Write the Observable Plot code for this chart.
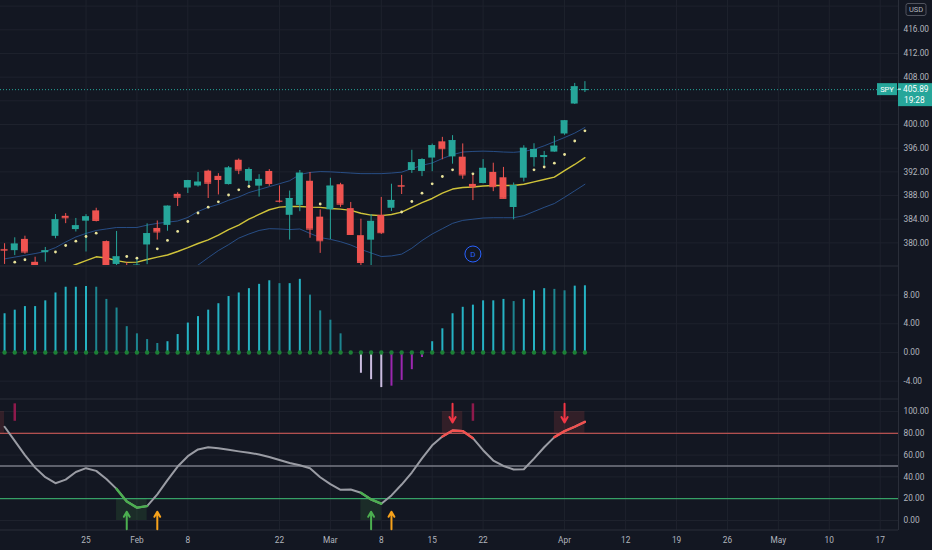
<!DOCTYPE html>
<html><head><meta charset="utf-8">
<script src="https://cdn.jsdelivr.net/npm/d3@7"></script>
<script src="https://cdn.jsdelivr.net/npm/@observablehq/plot@0.6"></script>
<style>
html,body{margin:0;padding:0;background:#131722;}
#chart{width:932px;height:550px;overflow:hidden;background:#131722;}
#chart svg{display:block;}
</style></head><body><div id="chart"></div>
<script>
// ---------- DATA (SPY daily) ----------
const dates = ["2021-01-12","2021-01-13","2021-01-14","2021-01-15","2021-01-19","2021-01-20","2021-01-21","2021-01-22","2021-01-25","2021-01-26","2021-01-27","2021-01-28","2021-01-29","2021-02-01","2021-02-02","2021-02-03","2021-02-04","2021-02-05","2021-02-08","2021-02-09","2021-02-10","2021-02-11","2021-02-12","2021-02-16","2021-02-17","2021-02-18","2021-02-19","2021-02-22","2021-02-23","2021-02-24","2021-02-25","2021-02-26","2021-03-01","2021-03-02","2021-03-03","2021-03-04","2021-03-05","2021-03-08","2021-03-09","2021-03-10","2021-03-11","2021-03-12","2021-03-15","2021-03-16","2021-03-17","2021-03-18","2021-03-19","2021-03-22","2021-03-23","2021-03-24","2021-03-25","2021-03-26","2021-03-29","2021-03-30","2021-03-31","2021-04-01","2021-04-05","2021-04-06"];
const open = [378.89,378.69,380.59,376.72,378.34,381.11,384.49,382.25,383.67,385.41,380.22,376.36,375.63,373.72,379.65,382.44,382.96,388.20,389.27,389.61,392.12,391.24,389.85,393.96,390.42,389.59,392.07,387.06,384.66,386.33,390.41,384.35,385.59,389.82,385.79,381.22,380.46,384.66,385.85,389.69,392.23,392.07,394.33,397.07,394.53,394.48,389.88,390.03,391.91,391.00,385.98,390.93,394.40,394.42,395.34,398.40,403.46,405.76];
const high = [379.86,380.86,381.13,377.58,379.23,384.79,384.95,384.13,384.77,385.85,380.32,381.93,376.67,377.34,383.22,383.70,386.24,388.47,390.56,391.89,392.28,391.69,392.90,394.17,392.66,391.52,392.38,389.62,388.76,392.23,391.88,385.58,390.92,390.07,386.83,384.00,384.76,387.68,389.91,391.40,395.65,394.21,396.69,397.83,398.12,396.72,391.57,394.07,393.46,392.75,390.11,396.41,396.75,395.45,398.00,400.67,406.94,407.24];
const low = [376.36,377.85,378.10,373.70,376.75,380.69,383.25,381.84,378.46,383.54,372.01,375.89,368.27,370.38,376.32,380.48,381.97,386.14,388.35,389.42,387.50,388.10,389.77,391.53,389.33,387.74,389.55,386.74,380.48,385.27,380.78,378.23,380.57,386.00,381.31,371.88,372.64,381.42,385.31,388.17,391.74,391.20,392.03,394.04,393.30,390.75,387.15,389.97,388.66,387.47,383.90,390.29,392.81,393.02,395.31,398.18,403.38,405.40];
const close = [378.77,379.79,378.46,375.70,378.65,383.89,384.24,382.88,384.39,383.79,374.41,377.63,370.07,376.23,381.55,381.85,386.19,387.71,390.51,390.25,390.08,390.71,392.64,392.30,392.39,390.72,390.03,387.03,387.50,391.77,382.33,380.36,389.58,386.54,381.42,376.70,383.63,381.72,387.17,389.58,393.53,394.06,396.41,395.91,397.26,391.48,389.48,392.59,389.50,387.52,389.70,395.98,395.78,394.73,396.33,400.61,406.36,405.89];

// channel lines
const bandMid = [371.6,372.3,373.0,373.6,374.3,375.0,375.7,376.35,377.0,377.65,377.45,377.0,376.7,376.75,377.2,377.6,377.95,378.55,379.2,379.9,380.5,381.3,382.25,383.0,384.0,384.8,385.6,386.05,386.15,386.15,386.05,386.0,385.8,385.7,385.5,385.0,384.7,384.6,384.8,385.2,386.0,386.8,387.5,388.4,389.1,389.35,389.45,389.6,389.7,389.7,389.7,389.9,390.3,390.7,391.1,392.2,393.25,394.4];
const bandUpper = [377.3,377.6,377.9,378.2,378.55,379.2,380.15,381.0,381.6,382.1,382.35,382.6,382.6,382.6,383.0,383.3,383.5,383.7,384.3,385.3,386.0,386.5,387.2,387.75,388.5,389.0,389.5,390.0,390.5,391.55,391.9,392.05,392.0,391.9,391.8,391.7,391.7,391.7,391.8,391.95,392.55,393.1,393.5,394.25,394.9,395.35,395.45,395.5,395.45,395.35,395.3,395.45,395.8,396.4,397.1,397.8,398.55,399.5];
const bandLower = [367.0,367.7,368.4,369.0,369.7,370.4,371.1,371.75,372.4,373.05,372.85,372.4,372.1,372.15,372.6,373.0,373.7,374.4,375.1,376.25,377.5,378.7,379.7,380.8,381.5,382.1,382.4,382.35,382.25,382.35,381.6,380.9,380.6,380.2,379.65,378.9,378.3,377.7,377.8,378.1,379.1,380.4,381.5,382.4,383.3,383.8,384.0,384.2,384.25,384.25,384.25,384.6,385.3,386.0,386.65,387.7,388.8,389.9];

// small dots
const dotDates = ["2021-01-13","2021-01-14","2021-01-20","2021-01-21","2021-01-22","2021-01-25","2021-01-26","2021-01-29","2021-02-01","2021-02-03","2021-02-04","2021-02-05","2021-02-08","2021-02-09","2021-02-10","2021-02-11","2021-02-12","2021-02-16","2021-02-17","2021-02-26","2021-03-10","2021-03-11","2021-03-12","2021-03-15","2021-03-16","2021-03-17","2021-03-19","2021-03-29","2021-03-30","2021-03-31","2021-04-01","2021-04-05","2021-04-06"];
const dotValues = [376.74,377.15,378.46,379.56,380.29,381.08,381.64,377.70,377.42,379.0,380.41,381.93,383.61,385.05,386.03,386.94,388.09,388.97,389.53,386.57,385.22,386.99,388.40,389.98,391.22,392.35,391.67,392.35,392.82,393.46,394.93,397.21,398.94];

const dividendDates = ["2021-03-19"];
const symbol = "SPY", interval = "1D", currency = "USD", countdown = "19:28";

// histogram pane
const hist = [5.4,5.9,6.4,6.4,7.2,8.3,9.1,9.1,9.2,9.1,7.4,6.2,3.6,2.6,1.8,1.25,1.5,2.5,4.1,5.0,5.9,6.8,7.8,8.3,8.9,9.5,10.0,9.6,9.6,10.2,8.0,5.8,4.5,2.6,0,-2.9,-3.8,-4.9,-4.7,-3.9,-2.4,-0.7,1.5,3.3,5.4,6.3,6.6,7.2,7.2,7.4,7.1,7.4,8.6,8.9,8.8,8.6,9.25,9.3];

// oscillator pane
const osc = [86,73,60,48.5,39.7,34.2,37.5,44.5,48,45.5,38,29,17.5,11.8,13.2,24,37,49.5,59,65.2,67.2,66.2,64.8,63.4,62.2,60.6,58.2,55.5,52.8,50.6,48,39.7,33.3,28.2,28.4,25.4,19.3,15.4,23,33,44,57,69,77,82.5,82,75.5,64.5,55,50,46.8,47,56.8,67.2,76.5,82,86,90.5];
const oscGreenRuns = [["2021-01-28","2021-02-02"],["2021-03-04","2021-03-08"]];
const oscRedRuns = [["2021-03-16","2021-03-19"],["2021-03-31","2021-04-06"]];
const greenZones = [["2021-01-28","2021-02-02"],["2021-03-04","2021-03-08"]];
const redZones = [["2021-01-11","2021-01-12"],["2021-03-16","2021-03-18"],["2021-03-31","2021-04-06"]];
const greenUpDates = ["2021-01-29","2021-03-05"];
const orangeUpDates = ["2021-02-03","2021-03-09"];
const redDownDates = ["2021-03-17","2021-04-01"];
const maroonDates = ["2021-01-13","2021-03-19"];

// axes
const priceGrid = [380,384,388,392,396,400,404,408,412,416,420];
const priceTicks = [380,384,388,392,396,400,408,412,416];
const histTicks = [-4,0,4,8];
const oscTicks = [0,20,40,60,80,100];
const oscLevels = [80,50,20];
const tickDates = ["2021-01-25","2021-02-01","2021-02-08","2021-02-22","2021-03-01","2021-03-08","2021-03-15","2021-03-22","2021-04-01","2021-04-12","2021-04-19","2021-04-26","2021-05-03","2021-05-10","2021-05-17"];
const tickLabels = ["25","Feb","8","22","Mar","8","15","22","Apr","12","19","26","May","10","17"];

// ---------- BUILD ----------
const BG="#131722", GRID="#1e222d", SEP="#2a2e39", TXT="#b2b5be";
const UP="#26a69a", DN="#ef5350";
const W=932, MR=34;
const FONT="Roboto, 'Noto Sans', sans-serif";
const FS=8.3;

const future = d3.utcDay.range(d3.utcDay.offset(new Date(dates[dates.length-1]),1), new Date("2021-05-25"))
  .filter(d => d.getUTCDay()%6 !== 0).map(d => d.toISOString().slice(0,10));
const sessions = dates.concat(future);
const idx = d => sessions.indexOf(d);
const tickIdx = tickDates.map(idx);
const xDomain = [-0.4, 87.8];

const bars = dates.map((d,i)=>({i,o:open[i],h:high[i],l:low[i],c:close[i],col: close[i]>=open[i]?UP:DN}));
const band = (arr)=>arr.map((v,i)=>({i,v}));
const dots = dotDates.map((d,k)=>({i:idx(d), v:dotValues[k]}));
const lastClose = close[close.length-1];
const style = {background:BG, color:TXT, fontFamily:FONT, fontSize:FS+"px", overflow:"hidden"};
const yAxis = (ticks)=>Plot.axisY(ticks,{anchor:"right",label:null,tickSize:0,tickPadding:5,tickFormat:d=>d.toFixed(2),color:TXT,fontSize:FS});

const price = Plot.plot({
  width:W, height:265, marginLeft:0, marginRight:MR, marginTop:0, marginBottom:0,
  style, color:{type:"identity"},
  x:{domain:xDomain, axis:null},
  y:{domain:[376.18,420.95], axis:null},
  marks:[
    Plot.ruleY(priceGrid,{stroke:GRID}),
    Plot.ruleX(tickIdx,{stroke:GRID}),
    Plot.text([`${symbol}, ${interval}`],{frameAnchor:"middle",dy:-37,fontSize:46,fontWeight:600,fill:"#ffffff",fillOpacity:0.022}),
    Plot.line(band(bandUpper),{x:"i",y:"v",stroke:"#2b5797",strokeWidth:1,strokeOpacity:0.85,clip:true}),
    Plot.line(band(bandLower),{x:"i",y:"v",stroke:"#2b5797",strokeWidth:1,strokeOpacity:0.85,clip:true}),
    Plot.line(band(bandMid),{x:"i",y:"v",stroke:"#cfc33a",strokeWidth:1.4,clip:true}),
    Plot.ruleX(bars,{x:"i",y1:"l",y2:"h",stroke:"col",strokeWidth:1,clip:true}),
    Plot.rect(bars,{x1:d=>d.i-0.34,x2:d=>d.i+0.34,y1:"o",y2:"c",fill:"col",clip:true}),
    Plot.ruleY(bars,{x1:d=>d.i-0.34,x2:d=>d.i+0.34,y:"c",stroke:"col",strokeWidth:1,clip:true}),
    Plot.dot(dots,{x:"i",y:"v",r:1.4,fill:"#e9e39a",clip:true}),
    Plot.ruleY([lastClose],{stroke:UP,strokeDasharray:"1 2",strokeWidth:1}),
    Plot.dot(dividendDates.map(idx),{x:d=>d,frameAnchor:"bottom",dy:-11.5,r:8,stroke:"#2962ff",fill:"none",strokeWidth:1}),
    Plot.text(dividendDates.map(idx),{x:d=>d,frameAnchor:"bottom",dy:-11.5,lineAnchor:"middle",text:()=>"D",fill:"#2962ff",fontSize:8}),
    Plot.ruleX([xDomain[1]],{stroke:SEP}),
    yAxis(priceTicks)
  ]
});

const histData = hist.map((v,i)=>{
  const p = i ? hist[i-1] : v;
  const col = v>=0 ? (v>=p ? "#25b3c4" : "#1d8590") : (v<p ? "#cbbde0" : "#9c27b0");
  return {i,v,col};
});
const histPlot = Plot.plot({
  width:W, height:133, marginLeft:0, marginRight:MR, marginTop:0, marginBottom:0,
  style, color:{type:"identity"},
  x:{domain:xDomain, axis:null},
  y:{domain:[-6.42,12.13], axis:null},
  marks:[
    Plot.ruleY(histTicks,{stroke:GRID}),
    Plot.ruleX(tickIdx,{stroke:GRID}),
    Plot.ruleY([12.13],{stroke:SEP,dy:0.5}),
    Plot.ruleX(histData,{x:"i",y1:0,y2:"v",stroke:"col",strokeWidth:2}),
    Plot.dot(histData,{x:"i",y:0,r:2.2,fill:"#1c7f36"}),
    Plot.ruleX([xDomain[1]],{stroke:SEP}),
    yAxis(histTicks)
  ]
});

const oscPts = osc.map((v,i)=>({i,v}));
const runs = [...oscGreenRuns.map(r=>({r,c:"#4caf50"})), ...oscRedRuns.map(r=>({r,c:"#f2514f"}))];
const segPts = runs.flatMap((run,k)=> d3.range(idx(run.r[0]), idx(run.r[1])+1).map(i=>({i,v:osc[i],k,c:run.c})));
const zoneIdx = d => d < dates[0] ? -1 : idx(d);
const zones = [...greenZones.map(z=>({a:zoneIdx(z[0]),b:zoneIdx(z[1]),y1:0,y2:20,c:"#4caf50"})),
               ...redZones.map(z=>({a:zoneIdx(z[0]),b:zoneIdx(z[1]),y1:80,y2:100,c:"#ef5350"}))];
const oscPlot = Plot.plot({
  width:W, height:152, marginLeft:0, marginRight:MR, marginTop:0, marginBottom:20,
  style, color:{type:"identity"},
  x:{domain:xDomain, axis:null},
  y:{domain:[-9.17,111.9], axis:null},
  marks:[
    Plot.ruleY(oscTicks,{stroke:GRID}),
    Plot.ruleX(tickIdx,{stroke:GRID}),
    Plot.ruleY([111.9],{stroke:SEP,dy:0.5}),
    Plot.ruleY([-9.17],{stroke:SEP,dy:-0.5}),
    Plot.rect(zones,{x1:"a",x2:"b",y1:"y1",y2:"y2",fill:"c",fillOpacity:0.14,clip:true}),
    Plot.ruleY([oscLevels[0]],{stroke:"#e0605c",strokeWidth:1}),
    Plot.ruleY([oscLevels[1]],{stroke:"#787b86",strokeWidth:1.6}),
    Plot.ruleY([oscLevels[2]],{stroke:"#3dbf74",strokeWidth:1}),
    Plot.line(oscPts,{x:"i",y:"v",stroke:"#9a9ca4",strokeWidth:2}),
    Plot.line(segPts,{x:"i",y:"v",z:"k",stroke:"c",strokeWidth:2.4}),
    Plot.arrow(greenUpDates.map(idx),{x1:d=>d,x2:d=>d,y1:-8,y2:8,stroke:"#4caf50",strokeWidth:2,headLength:5}),
    Plot.arrow(orangeUpDates.map(idx),{x1:d=>d,x2:d=>d,y1:-8,y2:8,stroke:"#f7a21b",strokeWidth:2,headLength:5}),
    Plot.arrow(redDownDates.map(idx),{x1:d=>d,x2:d=>d,y1:107,y2:90,stroke:"#f23645",strokeWidth:2,headLength:5}),
    Plot.ruleX(maroonDates.map(idx),{x:d=>d,y1:91,y2:107,stroke:"#8e1a4c",strokeWidth:2.5}),
    Plot.ruleX([xDomain[1]],{stroke:SEP}),
    yAxis(oscTicks),
    Plot.axisX(tickIdx,{anchor:"bottom",label:null,tickSize:0,tickPadding:7,tickFormat:d=>tickLabels[tickIdx.indexOf(d)],color:TXT,fontSize:FS})
  ]
});

// price label + currency box, positioned through the plot's own scales
(function(){
  const sy = price.scale("y"), sx = price.scale("x");
  const y = sy.apply(lastClose), x0 = sx.apply(xDomain[1]);
  const g = d3.select(price).append("g").attr("font-family",FONT).attr("font-size",FS).attr("text-anchor","start");
  g.append("rect").attr("x",x0-21).attr("y",y-6).attr("width",20).attr("height",12).attr("fill",UP);
  g.append("text").attr("x",x0-11).attr("y",y).attr("dy","0.35em").attr("text-anchor","middle").attr("fill","#fff").attr("font-size",7.5).text(symbol);
  g.append("rect").attr("x",x0).attr("y",y-6).attr("width",W-x0).attr("height",23).attr("fill",UP);
  g.append("line").attr("x1",x0).attr("x2",x0+3).attr("y1",y).attr("y2",y).attr("stroke","#fff");
  g.append("text").attr("x",x0+5).attr("y",y).attr("dy","0.35em").attr("text-anchor","start").attr("fill","#fff").text(lastClose.toFixed(2));
  g.append("text").attr("x",x0+6).attr("y",y+10.5).attr("dy","0.35em").attr("text-anchor","start").attr("fill","#fff").text(countdown);
  g.append("rect").attr("x",x0+8).attr("y",3.5).attr("width",20).attr("height",12).attr("rx",2)
    .attr("fill",BG).attr("stroke","#50535e");
  g.append("text").attr("x",x0+18).attr("y",9.5).attr("dy","0.35em").attr("text-anchor","middle").attr("fill",TXT).attr("font-size",7.5).text(currency);
})();

const root = document.getElementById("chart");
root.append(price, histPlot, oscPlot);
</script>
</body></html>
